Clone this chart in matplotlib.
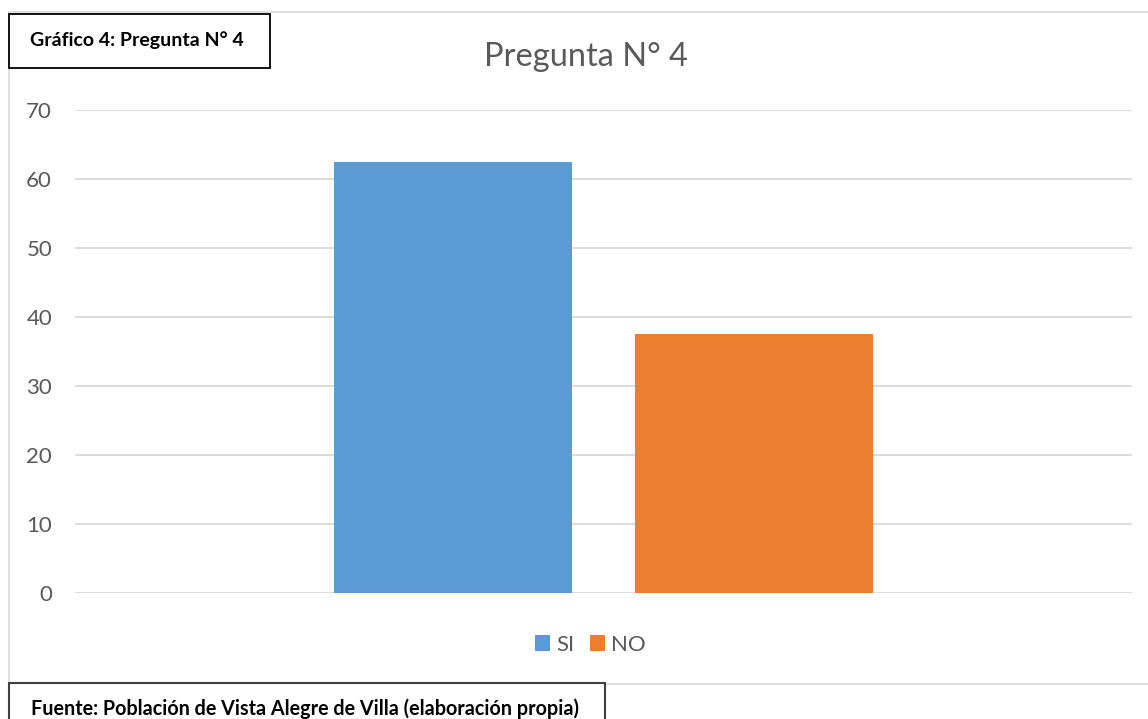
import matplotlib
matplotlib.use("Agg")
import matplotlib.pyplot as plt
from matplotlib.patches import Rectangle

plt.rcParams["font.family"] = ["Lato", "DejaVu Sans"]

# Data
categories = ["SI", "NO"]
values = [62.5, 37.5]
colors = ["#5B9BD5", "#ED7D31"]
yticks = [0, 10, 20, 30, 40, 50, 60, 70]

W, H = 1148, 719
GRID = "#D9D9D9"
TXT = "#595959"

fig = plt.figure(figsize=(W / 100, H / 100), dpi=100)


def fx(x):
    return x / W


def fy(y):
    return 1 - y / H


# outer chart area frame
fig.add_artist(Rectangle((fx(9), fy(684)), fx(W + 5) - fx(9), fy(12) - fy(684),
                         transform=fig.transFigure, fill=False, edgecolor=GRID, lw=1.2))

ax = fig.add_axes([fx(75), fy(593), fx(1132) - fx(75), fy(110) - fy(593)])
bar_w = 0.225
gap = 0.06
for i, (cat, val, col) in enumerate(zip(categories, values, colors)):
    xpos = (i - 0.5) * (bar_w + gap)
    ax.bar(xpos, val, width=bar_w, color=col, label=cat, zorder=3)

ax.set_xlim(-0.5, 0.5)
ax.set_ylim(0, 70)
ax.set_yticks(yticks)
ax.set_xticks([])
ax.grid(axis="y", color=GRID, lw=1.3, zorder=0)
for s in ax.spines.values():
    s.set_visible(False)
ax.tick_params(axis="y", length=0, pad=16.5, labelsize=16, labelcolor=TXT)

fig.text(fx(586), fy(57), "Pregunta N° 4", ha="center", va="center",
         fontsize=23.5, color=TXT)

leg = fig.legend(loc="center", bbox_to_anchor=(fx(590), fy(645)), ncol=2, frameon=False,
                 fontsize=16, handlelength=0.7, handleheight=0.7, handletextpad=0.25,
                 columnspacing=0.7, labelcolor=TXT)

# caption boxes
fig.add_artist(Rectangle((fx(9), fy(68)), fx(270) - fx(9), fy(14) - fy(68),
                         transform=fig.transFigure, facecolor="white", edgecolor="black", lw=1.3))
fig.text(fx(30), fy(40), "Gráfico 4: Pregunta N° 4", ha="left", va="center",
         fontsize=14, fontweight="bold", color="black")

fig.add_artist(Rectangle((fx(9), fy(H + 5)), fx(605) - fx(9), fy(683) - fy(H + 5),
                         transform=fig.transFigure, facecolor="white", edgecolor="#404040", lw=1.5))
fig.text(fx(31), fy(709), "Fuente: Población de Vista Alegre de Villa (elaboración propia)",
         ha="left", va="center", fontsize=14.2, fontweight="bold", color="black")

fig.savefig("out.png", dpi=100, facecolor="white")
